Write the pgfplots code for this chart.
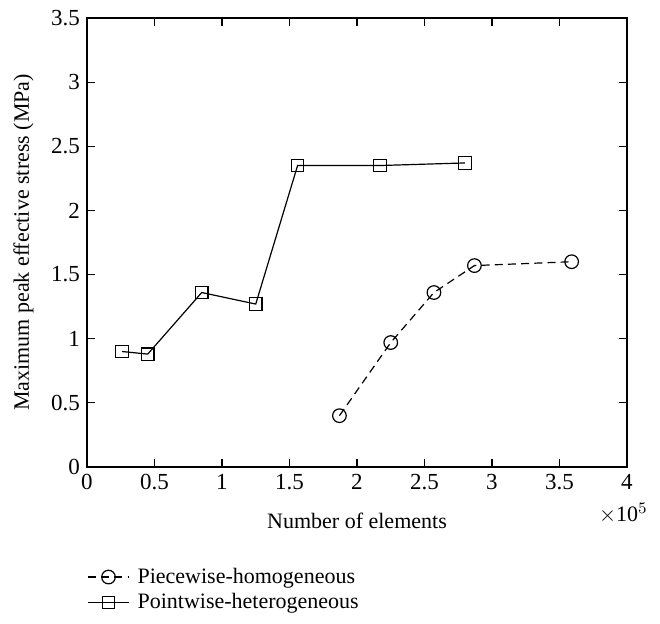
\documentclass[border=0pt]{standalone}
\usepackage{fontspec}
\setmainfont{Liberation Serif}
\usepackage{pgfplots}
\pgfplotsset{compat=1.18}

\begin{document}
\begin{tikzpicture}
\path[use as bounding box] (-43.5pt,-78.5pt) rectangle (286.5pt,233.5pt);
\begin{axis}[
  scale only axis, width=270pt, height=224.5pt,
  xmin=0, xmax=4, ymin=0, ymax=3.5,
  xtick={0,0.5,...,4}, ytick={0,0.5,...,3.5},
  xticklabels={0,0.5,1,1.5,2,2.5,3,3.5,4},
  yticklabels={0,0.5,1,1.5,2,2.5,3,3.5},
  tick align=inside, major tick length=4pt,
  axis line style={line width=0.7pt}, tick style={line width=0.6pt, black},
  /pgf/number format/assume math mode=true,
  tick label style={font=\fontsize{11.5}{12}\selectfont},
  label style={font=\fontsize{11}{12}\selectfont},
  xlabel={Number of elements}, ylabel={Maximum peak effective stress (MPa)},
  xlabel style={yshift=-5pt}, ylabel style={yshift=2pt},
  legend style={at={(0,-0.215)}, anchor=north west, draw=none, fill=none,
    font=\fontsize{11}{12}\selectfont, row sep=-0.5pt, inner sep=0pt,
    nodes={inner xsep=4pt}},
  legend cell align=left,
  legend image code/.code={
    \draw[#1, mark=none] (0cm,0cm) -- (0.72cm,0cm);
    \path[#1, solid] plot coordinates {(0.36cm,0cm)};},
  clip=false]
\addplot[black, line width=0.6pt, dash pattern=on 4pt off 2.6pt, mark=o, mark size=3.4pt, mark options={solid}] coordinates {
  (1.87,0.40) (2.25,0.97) (2.57,1.36) (2.87,1.57) (3.59,1.60)};
\addlegendentry{Piecewise-homogeneous}
\addplot[black, line width=0.6pt, mark=square, mark size=3.1pt] coordinates {
  (0.26,0.90) (0.45,0.88) (0.85,1.36) (1.25,1.27) (1.56,2.35) (2.17,2.35) (2.80,2.37)};
\addlegendentry{Pointwise-heterogeneous}
\node[anchor=east, font=\fontsize{11}{12}\selectfont, inner sep=0pt] at ([xshift=10.5pt,yshift=-23pt]rel axis cs:1,0) {$\times$10$^{5}$};
\end{axis}
\end{tikzpicture}
\end{document}
